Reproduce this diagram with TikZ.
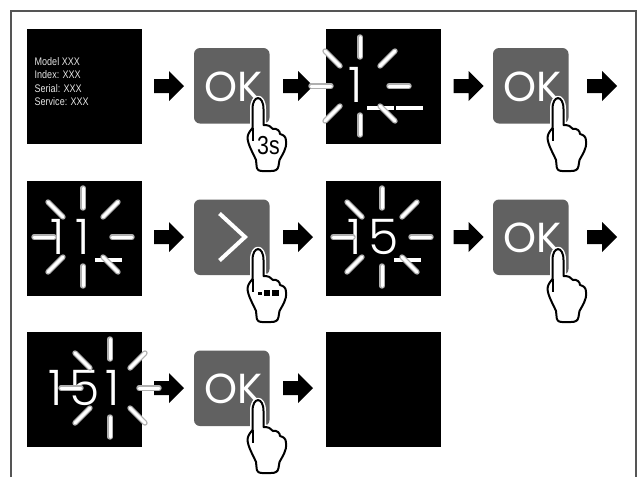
\documentclass[tikz,border=0pt]{standalone}
\usepackage{fontspec}
\setmainfont{Liberation Sans}
\newfontfamily\digitfont{Poppins Light}
\newfontfamily\okfont{Poppins}
\newfontfamily\smallfont[FakeStretch=0.82]{Liberation Sans}
\definecolor{btn}{HTML}{616161}
\definecolor{framec}{HTML}{555555}
\definecolor{rayc}{HTML}{B0B0B0}
\tikzset{
  screen/.style={fill=black,draw=none,minimum size=114.5pt,inner sep=0pt,outer sep=0pt,anchor=north west},
  btnbox/.style={fill=btn,draw=none,rounded corners=6pt,minimum size=75.5pt,inner sep=0pt,outer sep=0pt,anchor=north west,text=white},
  okmark/.style={font=\okfont\fontsize{42}{42}\selectfont,text=white},
  digits/.style={font=\digitfont\fontsize{49}{49}\selectfont,text=white,inner sep=0pt,anchor=base},
  smalltext/.style={anchor=base west,inner sep=0pt,text=white!90!black,font=\smallfont\fontsize{11}{11}\selectfont},
  under/.style={fill=white,draw=none},
  handline/.style={draw=black,line width=2pt,line join=round,fill=white},
  halo/.style={draw=white,line width=5pt,line join=round},
  rayo/.style={draw=rayc,line width=5.4pt,line cap=round},
  rayi/.style={draw=white,line width=3pt,line cap=round},
}
\newcommand{\blockarrow}[2]{%
  \fill[black] (#1,#2-7) -- (#1+15,#2-7) -- (#1+15,#2-15) -- (#1+30,#2) -- (#1+15,#2+15) -- (#1+15,#2+7) -- (#1,#2+7) -- cycle;}
\newcommand{\handpath}{(17.5,43) -- (17.5,24) .. controls (17.5,9.5) and (28.5,9.5) .. (28.5,24) -- (28.5,40)
  .. controls (33,40) and (36,41) .. (38,44) .. controls (42,43) and (45,46) .. (45,49)
  .. controls (49,50) and (51,52) .. (51,56) .. controls (52,64) and (47,70) .. (44.5,75) -- (43.5,81)
  .. controls (43,85) and (40,86) .. (36,86) -- (27,86) .. controls (23,86) and (21.5,84) .. (21.5,80) -- (21,75)
  .. controls (18,68) and (13,60) .. (12.5,53) .. controls (12.5,49) and (15,46) .. (17.5,43) -- cycle}
\newcommand{\hand}[2]{%
  \begin{scope}[shift={(#1,#2)}]
    \draw[halo] \handpath;
    \draw[handline] \handpath;
    \draw[black,line width=2pt] (17.5,43) -- (17.5,56);
  \end{scope}}
\newcommand{\rays}[2]{%
  \begin{scope}[shift={(#1,#2)}]
    \foreach \a/\b/\c/\d in {0/-49/0/-29, 0/29/0/49, 29/0/49/0, -49/0/-29/0, 20/-20/35/-35, -20/-20/-35/-35, 20/20/35/35, -20/20/-35/35}{
      \draw[rayo] (\a,\b) -- (\c,\d);
      \draw[rayi] (\a,\b) -- (\c,\d);
    }
  \end{scope}}
\begin{document}
\begin{tikzpicture}[x=1pt,y=-1pt]
\useasboundingbox (0,0) rectangle (644,477);
\fill[white] (0,0) rectangle (644,477);
\draw[framec,line width=2.3pt] (11,477) -- (11,11.3) -- (636,11.3) -- (636,477);

% arrows
\foreach \y in {86,237,388}{
  \blockarrow{154}{\y}
  \blockarrow{283}{\y}
}
\foreach \y in {86,237}{
  \blockarrow{453.5}{\y}
  \blockarrow{587}{\y}
}

% screens
\node[screen] (s1) at (27,29) {};
\node[screen] (s2) at (326,29) {};
\node[screen] (s3) at (27,181) {};
\node[screen] (s4) at (326,181) {};
\node[screen] (s5) at (27,332) {};
\node[screen] (s6) at (326,332) {};

% buttons
\node[btnbox] (b1) at (194,48) {};
\node[btnbox] (b2) at (493,48) {};
\node[btnbox] (b3) at (194,199.5) {};
\node[btnbox] (b4) at (493,199.5) {};
\node[btnbox] (b5) at (194,350.5) {};
\node[okmark] (k1) at (234,87) {OK};
\node[okmark] (k2) at (533,87) {OK};
\node[okmark] (k4) at (533,238) {OK};
\node[okmark] (k5) at (234,389) {OK};
\draw[white,line width=4pt,miter limit=4] (219.5,213.5) -- (245,237) -- (219.5,260.5);

% first screen text
\node[smalltext] (t1) at (34.5,65) {Model XXX};
\node[smalltext] (t2) at (34.5,78.5) {Index: XXX};
\node[smalltext] (t3) at (34.5,92) {Serial: XXX};
\node[smalltext] (t4) at (34.5,105.5) {Service: XXX};

% digits
\node[digits] (d1) at (356,102) {1};
\node[digits] (d2) at (70,254) {1\hspace{11pt}1};
\node[digits] (d3) at (373,254) {1\hspace{7pt}5};
\node[digits] (d4) at (84,405) {1\hspace{7pt}5\hspace{5pt}1};

% underscores
\fill[under] (367,106) rectangle (394,110.3);
\fill[under] (396,106) rectangle (423,110.3);
\fill[under] (95,258) rectangle (122,262);
\fill[under] (394,258) rectangle (421,262);

% rays
\rays{360}{86}
\rays{83}{237}
\rays{382}{237}
\rays{110}{388}

% hands
\hand{235}{85}
\hand{535}{85}
\hand{235}{236}
\hand{535}{236}
\hand{235}{387}
\node[font=\smallfont\fontsize{26}{26}\selectfont,inner sep=0pt,text=black] (h3s) at (268.5,145.5) {3s};
\fill[black] (258.3,291.5) rectangle (262,295);
\fill[black] (264,290) rectangle (269.5,295.5);
\fill[black] (272.3,289.5) rectangle (279,296);
\end{tikzpicture}
\end{document}
